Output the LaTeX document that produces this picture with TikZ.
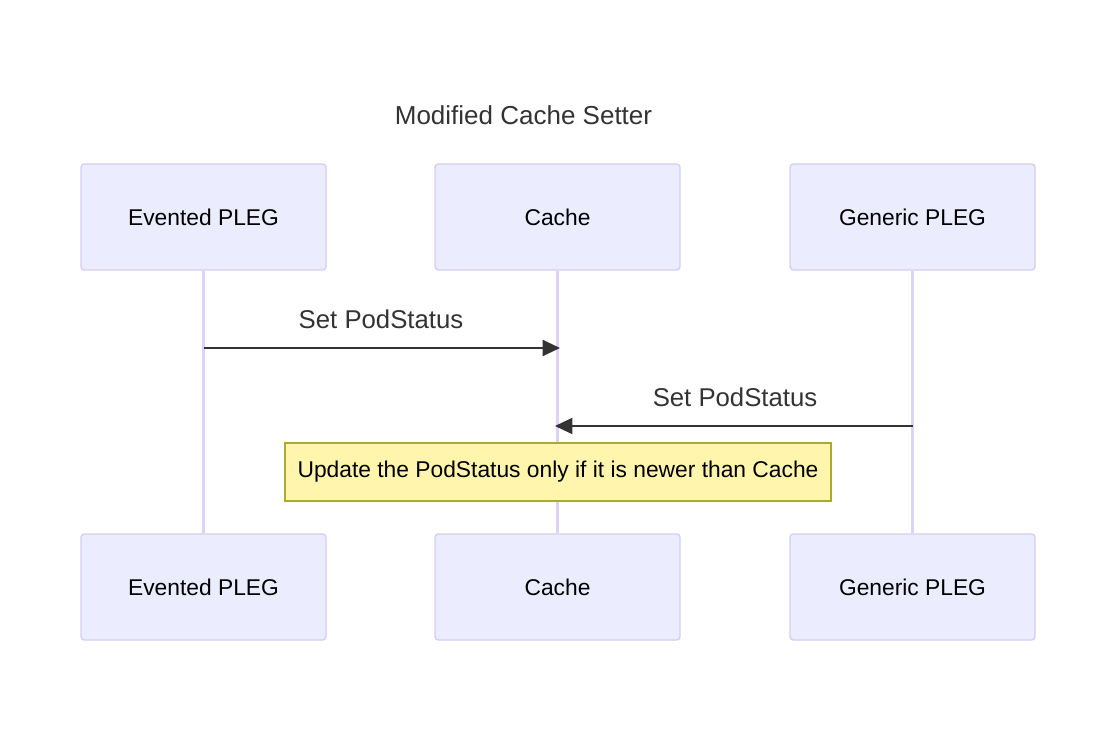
\documentclass[tikz,border=0pt]{standalone}
\usepackage{fontspec}
\setmainfont{Liberation Sans}
\usetikzlibrary{arrows.meta}
\definecolor{actorfill}{HTML}{ECECFF}
\definecolor{actorline}{HTML}{D6CCF4}
\definecolor{lifeline}{HTML}{DDD3F6}
\definecolor{notefill}{HTML}{FFF5AD}
\definecolor{noteline}{HTML}{AAAA33}
\definecolor{msgtext}{HTML}{333333}

\begin{document}
\begin{tikzpicture}[x=0.75pt,y=-0.75pt,
  actor/.style={draw=actorline,fill=actorfill,line width=1pt,rounded corners=2.5pt,
    minimum width=183.75pt,minimum height=79.5pt,font=\fontsize{17.1}{20}\selectfont},
  life/.style={draw=lifeline,line width=2pt},
  msg/.style={draw=msgtext,line width=1.5pt,-{Triangle[length=13pt,width=12pt]}},
  msglabel/.style={text=msgtext,font=\fontsize{19.3}{23}\selectfont},
  note/.style={draw=noteline,fill=notefill,line width=1pt,
    minimum width=409.5pt,minimum height=43.5pt,font=\fontsize{17.1}{20}\selectfont}]
\useasboundingbox (0,0) rectangle (1116,741);
% title
\node [text=msgtext,font=\fontsize{19.5}{23}\selectfont] (title) at (523.5,115) {Modified Cache Setter};
% actors, top and bottom
\node [actor] (ept) at (203.5,217) {Evented PLEG};
\node [actor] (cat) at (557.5,217) {Cache};
\node [actor] (gpt) at (912.5,217) {Generic PLEG};
\node [actor] (epb) at (203.5,587) {Evented PLEG};
\node [actor] (cab) at (557.5,587) {Cache};
\node [actor] (gpb) at (912.5,587) {Generic PLEG};
% lifelines
\draw [life] (ept.south) -- (epb.north);
\draw [life] (cat.south) -- (cab.north);
\draw [life] (gpt.south) -- (gpb.north);
% messages
\coordinate (ep1) at (203.5,348);
\coordinate (ca1) at (560,348);
\coordinate (gp2) at (912.5,426);
\coordinate (ca2) at (555,426);
\draw [msg] (ep1) -- (ca1);
\node [msglabel] (m1) at (381,319) {Set PodStatus};
\draw [msg] (gp2) -- (ca2);
\node [msglabel] (m2) at (735,397) {Set PodStatus};
% note over cache
\node [note] (nt) at (558,472) {\raisebox{-1.5pt}{Update the PodStatus only if it is newer than Cache}};
\end{tikzpicture}
\end{document}
